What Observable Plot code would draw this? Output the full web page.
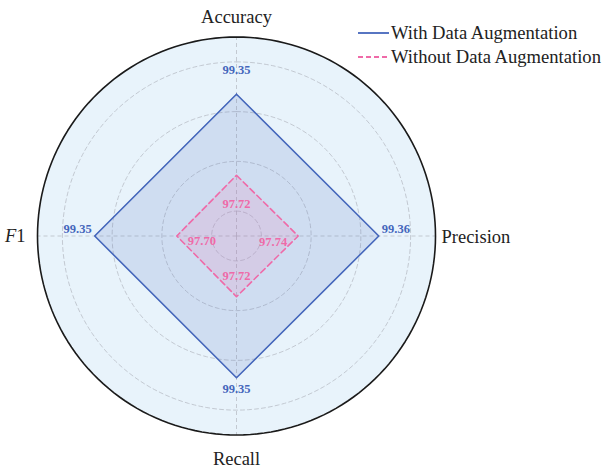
<!DOCTYPE html>
<html><head><meta charset="utf-8">
<script src="https://cdn.jsdelivr.net/npm/d3@7"></script>
<script src="https://cdn.jsdelivr.net/npm/@observablehq/plot@0.6"></script>
<style>body{margin:0;background:#fff}</style>
</head><body><div id="chart"></div>
<script>
// ---- data ----
const axes = ["Accuracy", "Precision", "Recall", "F1"];
const withAug = [99.35, 99.36, 99.35, 99.35];
const withoutAug = [97.72, 97.74, 97.72, 97.70];
const seriesNames = ["With Data Augmentation", "Without Data Augmentation"];
const ringValues = [97, 98, 99, 100];
const radialDomain = [96.5, 100.5];

// ---- styles / layout ----
const W = 603, H = 470;
const R = 199, cx = 236, cy = 235.5;
const blue = "#4466bb", pink = "#ef6aa8";
const serif = "'Liberation Serif','Times New Roman',serif";
const blueOffsets = [
  {textAnchor: "middle", dx: 0, dy: -24},
  {textAnchor: "start", dx: 3, dy: -7},
  {textAnchor: "middle", dx: 0, dy: 11},
  {textAnchor: "end", dx: -3, dy: -7}
];
const pinkOffsets = [
  {textAnchor: "middle", dx: 0, dy: 29},
  {textAnchor: "end", dx: -11, dy: 5.5},
  {textAnchor: "middle", dx: 0, dy: -20.5},
  {textAnchor: "start", dx: 11, dy: 4.5}
];
const axisOffsets = [
  {textAnchor: "middle", dx: 0, dy: -20},
  {textAnchor: "start", dx: 6, dy: 1},
  {textAnchor: "middle", dx: 0, dy: 24.5},
  {textAnchor: "end", dx: -12, dy: 0}
];

// ---- geometry helpers ----
const rad = d3.scaleLinear().domain(radialDomain).range([0, 1]);
const ang = i => i * 2 * Math.PI / axes.length;
const toXY = (a, r) => ({x: r * Math.sin(a), y: r * Math.cos(a)});

function circlePts(r) {
  const pts = [];
  for (let d = 0; d <= 360; d += 2) pts.push(toXY(d * Math.PI / 180, r));
  return pts;
}
function seriesPts(values, name) {
  return values.map((v, i) => ({axis: axes[i], i, value: v, series: name, ...toXY(ang(i), rad(v))}));
}
const withPts = seriesPts(withAug, seriesNames[0]);
const withoutPts = seriesPts(withoutAug, seriesNames[1]);
const closed = pts => [...pts, pts[0]];
const rings = ringValues.flatMap(v => circlePts(rad(v)).map(p => ({...p, ring: v})));
const outer = circlePts(1);
const spokes = axes.map((a, i) => ({axis: a, ...toXY(ang(i), 1)}));

const zero = () => 0;
const marks = [
  Plot.area(outer, {x1: "x", y1: "y", x2: zero, y2: zero, fill: "#e8f3fb", curve: "linear"}),
  Plot.line(rings, {x: "x", y: "y", z: "ring", stroke: "#b9bec6", strokeWidth: 0.8, strokeDasharray: "4,3", curve: "linear"}),
  Plot.link(spokes, {x1: zero, y1: zero, x2: "x", y2: "y", stroke: "#b9bec6", strokeWidth: 0.8, strokeDasharray: "4,3"}),
  Plot.area(closed(withPts), {x1: "x", y1: "y", x2: zero, y2: zero, fill: blue, fillOpacity: 0.15, curve: "linear"}),
  Plot.line(closed(withPts), {x: "x", y: "y", stroke: blue, strokeWidth: 1.6, curve: "linear"}),
  Plot.area(closed(withoutPts), {x1: "x", y1: "y", x2: zero, y2: zero, fill: pink, fillOpacity: 0.15, curve: "linear"}),
  Plot.line(closed(withoutPts), {x: "x", y: "y", stroke: pink, strokeWidth: 1.6, strokeDasharray: "6,3.5", curve: "linear"}),
  Plot.line(outer, {x: "x", y: "y", stroke: "#1a1a1a", strokeWidth: 1.6, curve: "linear"})
];
withPts.forEach((p, i) => marks.push(Plot.text([p], {x: "x", y: "y", text: d => d.value.toFixed(2), fill: blue, fontWeight: "bold", fontSize: 12.5, ...blueOffsets[i]})));
withoutPts.forEach((p, i) => marks.push(Plot.text([p], {x: "x", y: "y", text: d => d.value.toFixed(2), fill: pink, fontWeight: "bold", fontSize: 12.5, ...pinkOffsets[i]})));
spokes.forEach((p, i) => marks.push(Plot.text([p], {x: "x", y: "y", text: "axis", fill: "#222", fontSize: 18.5, ...axisOffsets[i]})));

const chart = Plot.plot({
  width: W, height: H, margin: 0,
  x: {domain: [-cx / R, (W - cx) / R], axis: null},
  y: {domain: [-(H - cy) / R, cy / R], axis: null},
  style: {fontFamily: serif, background: "#fff", overflow: "visible"},
  marks
});
document.getElementById("chart").append(chart);

// italic F in "F1"
const svg = d3.select(chart);
svg.selectAll("text").filter(function() { return this.textContent === "F1"; })
  .each(function() {
    const t = d3.select(this);
    t.text("");
    t.append("tspan").attr("font-style", "italic").text("F");
    t.append("tspan").text("1");
  });

// legend
const legend = svg.append("g").attr("font-family", serif).attr("font-size", 18.6)
  .attr("fill", "#222").attr("text-anchor", "start");
[{name: seriesNames[0], color: blue, dash: null, y: 33}, {name: seriesNames[1], color: pink, dash: "5,3", y: 57}]
  .forEach(d => {
    legend.append("line").attr("x1", 358).attr("x2", 389).attr("y1", d.y).attr("y2", d.y)
      .attr("stroke", d.color).attr("stroke-width", 1.8).attr("stroke-dasharray", d.dash);
    legend.append("text").attr("x", 391).attr("y", d.y).attr("dy", "0.34em").text(d.name);
  });
</script></body></html>
